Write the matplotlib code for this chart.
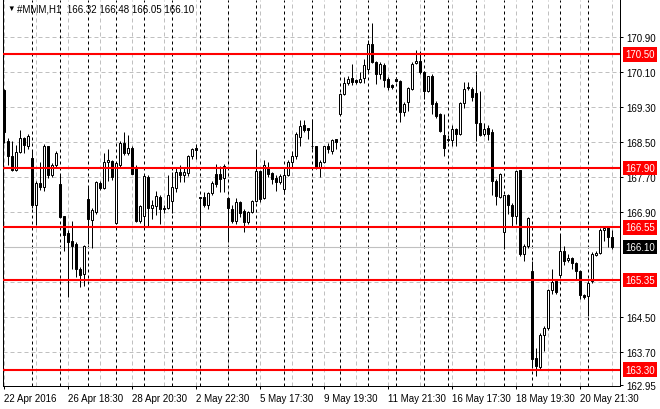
import matplotlib.pyplot as plt
import numpy as np


# Datos de las velas H1 (#MMM, 22 Apr - 23 May 2016)
aperturas = [
    169.69, 168.52, 168.18, 167.86, 168.28, 168.59, 168.42, 168.13, 167.05, 167.57,
    167.47, 168.40, 167.75, 167.97, 167.54, 166.80, 166.42, 166.25, 166.17, 165.60,
    165.49, 167.20, 166.73, 166.91, 167.57, 167.45, 168.04, 168.06, 166.65, 167.98,
    168.47, 168.24, 168.36, 167.94, 166.70, 166.80, 167.70, 166.99, 167.03, 167.25,
    167.00, 166.99, 167.15, 167.44, 167.81, 167.75, 167.79, 168.19, 168.37, 167.24,
    167.24, 167.05, 167.33, 167.78, 167.77, 167.68, 167.21, 166.97, 166.70, 167.12,
    166.93, 166.68, 166.90, 167.15, 167.84, 167.22, 167.92, 167.79, 167.67, 167.59,
    167.42, 167.75, 168.04, 168.19, 168.62, 168.90, 168.81, 168.42, 168.40, 167.90,
    168.05, 168.40, 168.30, 168.56, 169.14, 169.60, 169.84, 169.96, 169.91, 169.88,
    169.96, 170.17, 170.74, 170.32, 170.05, 170.26, 169.94, 169.80, 169.95, 169.90,
    169.19, 169.41, 169.71, 170.30, 170.36, 170.09, 169.67, 170.00, 169.40, 169.14,
    168.66, 168.55, 168.55, 168.80, 168.68, 169.39, 169.73, 169.72, 169.62, 168.93,
    168.68, 168.81, 168.74, 167.60, 167.24, 166.44, 167.29, 167.06, 166.82, 167.85,
    165.94, 166.13, 165.56, 163.56, 163.35, 164.08, 164.25, 165.12, 165.32, 165.47,
    166.00, 165.80, 165.85, 165.73, 165.56, 165.01, 164.98, 165.32, 165.93, 165.97,
    166.50, 166.55, 166.32,
]
maximos = [
    169.72, 168.60, 168.52, 168.43, 168.77, 168.62, 168.68, 168.30, 167.60, 168.04,
    168.45, 168.42, 168.01, 168.30, 167.75, 166.82, 166.50, 166.70, 166.22, 165.65,
    166.15, 167.47, 167.00, 167.60, 167.62, 168.24, 168.34, 168.10, 168.05, 168.52,
    168.72, 168.65, 168.40, 167.98, 167.05, 167.76, 167.74, 167.18, 167.37, 167.28,
    167.05, 167.75, 167.81, 167.92, 167.98, 167.90, 168.21, 168.36, 168.46, 167.25,
    167.36, 167.36, 167.62, 168.00, 167.95, 168.00, 167.24, 167.05, 167.22, 167.15,
    166.96, 166.93, 167.17, 168.30, 167.86, 168.10, 168.04, 167.82, 167.74, 167.76,
    167.88, 168.09, 168.30, 168.72, 169.00, 169.00, 168.83, 169.02, 168.42, 168.10,
    168.42, 168.48, 168.58, 168.58, 169.62, 169.98, 170.00, 170.28, 169.93, 170.10,
    170.39, 170.84, 171.22, 170.36, 170.32, 170.30, 169.98, 169.82, 169.98, 169.92,
    169.42, 169.76, 170.32, 170.60, 170.58, 170.12, 170.02, 170.05, 169.43, 169.16,
    169.14, 168.65, 168.89, 168.83, 169.42, 169.87, 169.88, 169.76, 170.05, 169.67,
    168.93, 168.88, 168.80, 167.65, 167.80, 167.30, 167.32, 167.10, 167.85, 167.87,
    166.17, 166.79, 165.79, 163.80, 164.14, 164.30, 165.14, 165.60, 165.35, 166.40,
    166.13, 165.94, 165.87, 165.75, 165.58, 165.02, 165.32, 165.98, 166.00, 166.54,
    166.56, 166.57, 166.48,
]
minimos = [
    168.48, 167.97, 167.83, 167.83, 168.25, 168.24, 168.34, 166.99, 166.61, 167.40,
    167.37, 167.68, 167.69, 167.94, 166.78, 166.00, 164.95, 165.60, 165.41, 165.18,
    165.22, 166.17, 166.08, 166.86, 167.40, 167.43, 167.62, 167.64, 166.63, 167.94,
    168.21, 168.21, 167.77, 166.68, 166.64, 166.55, 166.55, 166.74, 166.84, 166.63,
    166.88, 166.97, 166.87, 167.35, 167.59, 167.59, 167.73, 168.11, 168.11, 166.59,
    167.02, 166.97, 167.28, 167.47, 167.36, 167.36, 166.25, 166.66, 166.63, 166.78,
    166.44, 166.63, 166.88, 167.13, 167.13, 167.20, 167.70, 167.54, 167.39, 167.54,
    167.31, 167.73, 167.90, 168.11, 168.40, 168.72, 168.58, 168.35, 167.88, 167.70,
    168.02, 168.25, 168.22, 168.34, 169.12, 169.58, 169.80, 169.80, 169.82, 169.85,
    169.84, 170.10, 170.30, 169.82, 169.95, 169.75, 169.70, 169.72, 169.88, 168.95,
    169.10, 169.22, 169.68, 170.28, 170.05, 169.48, 169.64, 169.14, 169.05, 168.72,
    168.18, 168.50, 168.40, 168.41, 168.65, 169.27, 169.68, 169.43, 168.53, 168.64,
    168.63, 168.54, 167.28, 167.05, 167.22, 166.06, 166.85, 166.59, 166.63, 165.90,
    165.78, 166.08, 163.35, 163.16, 163.31, 163.73, 164.20, 165.03, 165.02, 165.45,
    165.68, 165.77, 165.60, 165.37, 164.92, 164.91, 164.53, 165.28, 165.90, 165.95,
    166.24, 166.10, 166.05,
]
cierres = [
    168.73, 168.18, 167.85, 168.27, 168.59, 168.43, 168.63, 167.05, 167.57, 167.47,
    168.42, 167.75, 167.97, 168.25, 166.79, 166.38, 166.21, 166.13, 165.60, 165.47,
    166.12, 166.74, 166.94, 167.58, 167.45, 168.04, 168.09, 167.71, 168.02, 168.47,
    168.24, 168.36, 167.78, 166.69, 167.03, 167.72, 166.99, 167.07, 167.26, 166.97,
    166.96, 167.29, 167.47, 167.81, 167.75, 167.81, 168.19, 168.34, 168.32, 167.22,
    167.07, 167.33, 167.56, 167.54, 167.66, 167.95, 166.99, 166.70, 167.12, 166.87,
    166.68, 166.90, 167.15, 167.84, 167.20, 167.97, 167.77, 167.65, 167.59, 167.72,
    167.75, 168.04, 168.19, 168.68, 168.87, 168.78, 168.77, 168.40, 167.91, 168.04,
    168.40, 168.33, 168.55, 168.50, 169.60, 169.84, 169.94, 169.87, 169.87, 169.95,
    170.25, 170.74, 170.32, 170.05, 170.28, 169.91, 169.75, 169.76, 169.90, 169.19,
    169.38, 169.73, 170.28, 170.36, 170.09, 169.67, 170.00, 169.37, 169.10, 168.75,
    168.36, 168.58, 168.80, 168.68, 169.39, 169.72, 169.76, 169.52, 168.93, 168.67,
    168.80, 168.69, 167.60, 167.26, 167.77, 167.28, 167.06, 166.80, 167.83, 165.94,
    166.13, 166.76, 163.54, 163.39, 164.08, 164.25, 165.12, 165.30, 165.08, 166.02,
    165.79, 165.85, 165.73, 165.56, 165.01, 164.95, 165.29, 165.94, 165.97, 166.50,
    166.54, 166.33, 166.10,
]

# Niveles horizontales (rojo) y precio actual
niveles = [170.50, 167.90, 166.55, 165.35, 163.30]
precio_actual = 166.10

# Eje de precios
ticks_y = [170.90, 170.10, 169.30, 168.50, 167.70, 166.90, 164.50, 163.70, 162.95]
rejilla_y = [170.90, 170.10, 169.30, 168.50, 167.70, 166.90, 166.10, 165.30,
             164.50, 163.70]

# Eje temporal (indices de barra)
pos_etiquetas = [0, 16, 32, 48, 64, 80, 96, 112, 128, 144]
etiquetas_x = ["22 Apr 2016", "26 Apr 18:30", "28 Apr 20:30", "2 May 22:30",
               "5 May 17:30", "9 May 19:30", "11 May 21:30", "16 May 17:30",
               "18 May 19:30", "20 May 21:30"]
inicio_dias = [7, 14, 21, 28, 35, 42, 49, 56, 63, 70, 77, 84, 91, 98, 105,
               111, 118, 125, 132, 139, 146]

titulo = "#MMM,H1  166.32 166.48 166.05 166.10"

plt.rcParams['font.family'] = ['Liberation Sans', 'DejaVu Sans']

fig = plt.figure(figsize=(6.6, 4.1), dpi=100)
ax = fig.add_axes([3 / 660, 23 / 410, 617 / 660, 386 / 410])

o = np.array(aperturas)
h = np.array(maximos)
l = np.array(minimos)
c = np.array(cierres)
x = np.arange(len(c))

ax.set_xlim(-0.3, 153.95)
ax.set_ylim(162.926, 171.745)

# Rejilla gris discontinua
for v in rejilla_y:
    ax.axhline(v, color='#c0c0c0', lw=0.72, ls=(0, (4, 3)), zorder=0.5)
for b in range(0, len(c), 8):
    ax.axvline(b, color='#c0c0c0', lw=0.72, ls=(0, (4, 3)), zorder=0.5)

# Separadores de dias
for b in inicio_dias:
    ax.axvline(b, color='black', lw=0.72, ls=(0, (3, 3)), zorder=0.6)

# Linea del precio actual
ax.axhline(precio_actual, color='#c0c0c0', lw=0.8, zorder=0.7)

# Velas
alcistas = c >= o
ax.vlines(x, l, h, color='black', lw=0.72, zorder=2)
ax.bar(x, np.abs(c - o), bottom=np.minimum(o, c), width=0.55,
       color=np.where(alcistas, 'white', 'black'), edgecolor='black',
       linewidth=0.72, zorder=3)

# Niveles rojos
for n in niveles:
    ax.axhline(n, color='red', lw=1.5, zorder=4)

# Bordes y ejes
ax.spines['top'].set_visible(False)
for lado in ['left', 'right', 'bottom']:
    ax.spines[lado].set_linewidth(0.72)
    ax.spines[lado].set_color('black')

ax.yaxis.tick_right()
ax.set_yticks(ticks_y)
ax.set_yticklabels([f"{t:.2f}" for t in ticks_y])
ax.tick_params(axis='y', length=2.5, width=0.72, pad=2, labelsize=7)
ax.set_xticks(pos_etiquetas)
ax.set_xticklabels(etiquetas_x)
ax.tick_params(axis='x', length=2.5, width=0.72, pad=2.5, labelsize=7)
for t in ax.get_xticklabels():
    t.set_ha('left')

# Etiquetas de los niveles en el eje derecho
trans = ax.get_yaxis_transform()
for n in niveles:
    ax.text(1.008, n, f"{n:.2f}", transform=trans, ha='left', va='center',
            color='white', fontsize=7, zorder=10, clip_on=False,
            bbox=dict(boxstyle='square,pad=0.22', fc='red', ec='none'))
ax.text(1.008, precio_actual, f"{precio_actual:.2f}", transform=trans,
        ha='left', va='center', color='white', fontsize=7, zorder=10,
        clip_on=False,
        bbox=dict(boxstyle='square,pad=0.22', fc='black', ec='none'))

# Titulo del grafico
ax.text(0.0065, 0.979, "\u25bc", transform=ax.transAxes, fontsize=5.5,
        va='center', ha='left', zorder=0.1)
ax.text(0.0227, 0.979, titulo, transform=ax.transAxes, fontsize=7,
        va='center', ha='left', zorder=0.1)

fig.savefig("out.png", dpi=100)
